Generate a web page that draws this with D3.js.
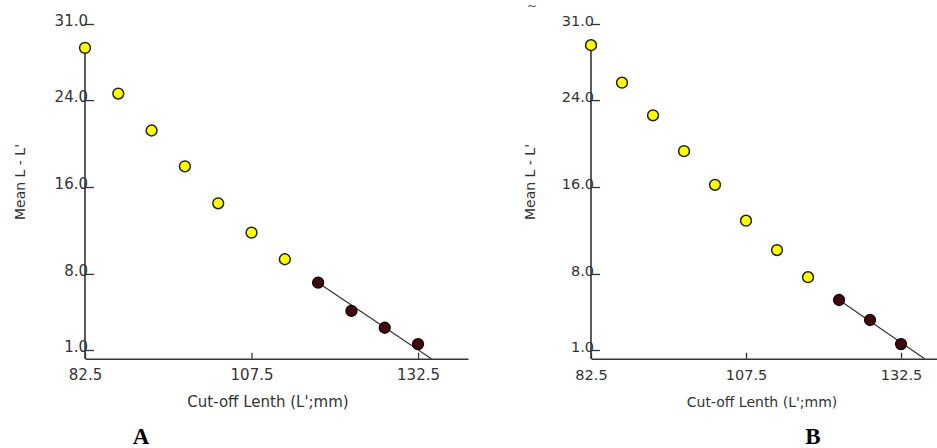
<!DOCTYPE html>
<html>
<head>
<meta charset="utf-8">
<script src="https://cdn.jsdelivr.net/npm/d3@7"></script>
<style>
  html, body { margin: 0; padding: 0; background: #fff; }
  svg { display: block; }
  text { font-family: "DejaVu Sans", sans-serif; fill: #333; }
</style>
</head>
<body>
<svg id="chart" width="937" height="448"></svg>
<script>
// ---- data ----
const xTicks = [82.5, 107.5, 132.5];
const yTicks = [1.0, 8.0, 16.0, 24.0, 31.0];
const cutoff = [82.5, 87.5, 92.5, 97.5, 102.5, 107.5, 112.5, 117.5, 122.5, 127.5, 132.5];

const meanA = [28.8, 24.6, 21.2, 17.9, 14.5, 11.8, 9.35, 7.2, 4.6, 3.05, 1.55];
const usedA = [0, 0, 0, 0, 0, 0, 0, 1, 1, 1, 1];
const fitXA = [117.5, 134.5];
const fitYA = [7.2, 0.2];

const meanB = [29.05, 25.6, 22.6, 19.3, 16.2, 12.9, 10.2, 7.7, 5.6, 3.76, 1.55];
const usedB = [0, 0, 0, 0, 0, 0, 0, 0, 1, 1, 1];
const fitXB = [122.5, 136.3];
const fitYB = [5.6, 0.2];

const xTitle = "Cut-off Lenth (L';mm)";
const yTitle = "Mean L - L'";
const panelLabels = ["A", "B"];

// ---- drawing ----
const svg = d3.select("#chart");

const panels = [
  { mean: meanA, used: usedA, fitX: fitXA, fitY: fitYA, xDom: [82.5, 140], xRange: [85, 468],
    titleSize: 15, tickSize: 15, titleX: 268, yTitleX: 20, label: panelLabels[0], labelX: 141 },
  { mean: meanB, used: usedB, fitX: fitXB, fitY: fitYB, xDom: [82.5, 138.3], xRange: [591, 937],
    titleSize: 14, tickSize: 14.5, titleX: 762, yTitleX: 530, label: panelLabels[1], labelX: 813 }
];

const yDom = [0.2, 31];
const yRange = [358.7, 24];

panels.forEach(p => {
  const x = d3.scaleLinear().domain(p.xDom).range(p.xRange);
  const y = d3.scaleLinear().domain(yDom).range(yRange);
  const g = svg.append("g");
  const x0 = p.xRange[0];
  const yBase = yRange[0];

  // x axis
  const xa = g.append("g")
    .attr("transform", `translate(0,${yBase})`)
    .call(d3.axisBottom(x).tickValues(xTicks).tickSize(-6).tickSizeOuter(0)
      .tickPadding(11).tickFormat(d3.format(".1f")));
  xa.select(".domain").attr("stroke", "#333").attr("stroke-width", 1.6);
  xa.selectAll(".tick line").attr("stroke", "#333").attr("stroke-width", 1.3);
  xa.selectAll(".tick text").style("font-size", p.tickSize + "px").attr("fill", "#333")
    .style("font-family", "'DejaVu Sans', sans-serif");

  // y axis (ticks only, line drawn from top data point)
  const ya = g.append("g")
    .attr("transform", `translate(${x0},0)`)
    .call(d3.axisLeft(y).tickValues(yTicks).tickSize(-9).tickPadding(-3)
      .tickFormat(d3.format(".1f")));
  ya.select(".domain").remove();
  ya.selectAll(".tick line").attr("stroke", "#333").attr("stroke-width", 1.3);
  ya.selectAll(".tick text").style("font-size", p.tickSize + "px").attr("fill", "#333")
    .attr("dy", "0.1em")
    .style("font-family", "'DejaVu Sans', sans-serif");

  g.append("line")
    .attr("x1", x0).attr("x2", x0)
    .attr("y1", y(d3.max(p.mean))).attr("y2", yBase)
    .attr("stroke", "#333").attr("stroke-width", 1.6);

  // fitted line
  g.append("line")
    .attr("x1", x(p.fitX[0])).attr("y1", y(p.fitY[0]))
    .attr("x2", x(p.fitX[1])).attr("y2", y(p.fitY[1]))
    .attr("stroke", "#333").attr("stroke-width", 1.2);

  // points
  g.selectAll("circle.pt")
    .data(cutoff.map((c, i) => ({ c, m: p.mean[i], u: p.used[i] })))
    .join("circle")
    .attr("class", "pt")
    .attr("cx", d => x(d.c))
    .attr("cy", d => y(d.m))
    .attr("r", 5.4)
    .attr("fill", d => d.u ? "#3d0a0e" : "#ffff00")
    .attr("stroke", d => d.u ? "#1c0004" : "#222210")
    .attr("stroke-width", 1.5);

  // axis titles
  g.append("text")
    .attr("x", p.titleX)
    .attr("y", 407)
    .attr("text-anchor", "middle")
    .style("font-size", p.titleSize + "px")
    .text(xTitle);

  g.append("text")
    .attr("transform", `translate(${p.yTitleX},182) rotate(-90)`)
    .attr("text-anchor", "middle")
    .attr("dominant-baseline", "central")
    .style("font-size", "14px")
    .text(yTitle);

  // panel letter
  g.append("text")
    .attr("x", p.labelX).attr("y", 444)
    .attr("text-anchor", "middle")
    .style("font-family", "'Liberation Serif', 'Times New Roman', serif")
    .style("font-weight", "bold")
    .style("font-size", "23px")
    .style("fill", "#000")
    .text(p.label);
});

// small cut-off glyph at top of right panel
svg.append("text")
  .attr("x", 532).attr("y", 10)
  .attr("text-anchor", "middle")
  .style("font-size", "12px")
  .style("fill", "#555")
  .text("~");
</script>
</body>
</html>
